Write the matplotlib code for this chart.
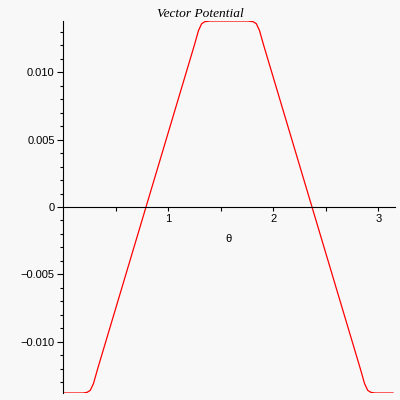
import numpy as np
import matplotlib
matplotlib.use("Agg")
import matplotlib.pyplot as plt
import matplotlib.transforms as mtransforms

# values (theta, A)
theta = [0.0, 0.19, 0.23, 0.26, 0.29, 0.33, 0.79, 1.25, 1.29, 1.32, 1.35, 1.40,
         1.76, 1.81, 1.84, 1.87, 1.91, 2.37, 2.83, 2.87, 2.90, 2.93, 2.97, 3.1416]
A = [-0.0138, -0.0138, -0.01375, -0.0136, -0.0131, -0.0120, 0.0, 0.0120, 0.0131,
     0.0136, 0.01375, 0.0138, 0.0138, 0.01375, 0.0136, 0.0131, 0.0120, 0.0,
     -0.0120, -0.0131, -0.0136, -0.01375, -0.0138, -0.0138]

yticks = [-0.010, -0.005, 0.0, 0.005, 0.010]
ylabels = ["\u22120.010", "\u22120.005", "0", "0.005", "0.010"]
xticks = [1, 2, 3]

bg = "#f8f8f8"
fig = plt.figure(figsize=(4, 4), dpi=100, facecolor=bg)
ax = fig.add_axes([0.1575, 0.0175, 0.83, 0.93], facecolor=bg)

ax.plot(theta, A, color="red", lw=0.9)

ax.set_xlim(0, 3.16)
ax.set_ylim(-0.0138, 0.0138)

ax.spines["top"].set_visible(False)
ax.spines["right"].set_visible(False)
ax.spines["bottom"].set_position(("data", 0))
for s in ("left", "bottom"):
    ax.spines[s].set_linewidth(0.8)

ax.set_xticks(xticks)
ax.set_xticklabels([str(t) for t in xticks])
ax.set_xticks([0.5, 1.5, 2.5], minor=True)
ax.set_yticks(yticks)
ax.set_yticklabels(ylabels)
ax.set_yticks(np.arange(-13, 14) * 0.001, minor=True)

ax.tick_params(axis="both", which="major", direction="out", width=0.8,
               labelsize=8, colors="black")
ax.tick_params(axis="y", which="major", length=4, pad=2)
ax.tick_params(axis="y", which="minor", length=2, width=0.8)
ax.tick_params(axis="x", which="major", length=3, pad=2)
ax.tick_params(axis="x", which="minor", length=3, width=0.8)
for lab in ax.get_xticklabels() + ax.get_yticklabels():
    lab.set_family("Liberation Sans")

trans = mtransforms.blended_transform_factory(ax.transAxes, ax.transData)
ax.text(0.5, -0.0024, "\u03b8", transform=trans, ha="center", va="center",
        fontsize=8, family="Liberation Sans")

fig.text(0.5, 0.965, "Vector Potential", ha="center", va="center",
         fontsize=9.6, style="italic", family="Liberation Serif")

fig.savefig("out.png", dpi=100, facecolor=bg)
